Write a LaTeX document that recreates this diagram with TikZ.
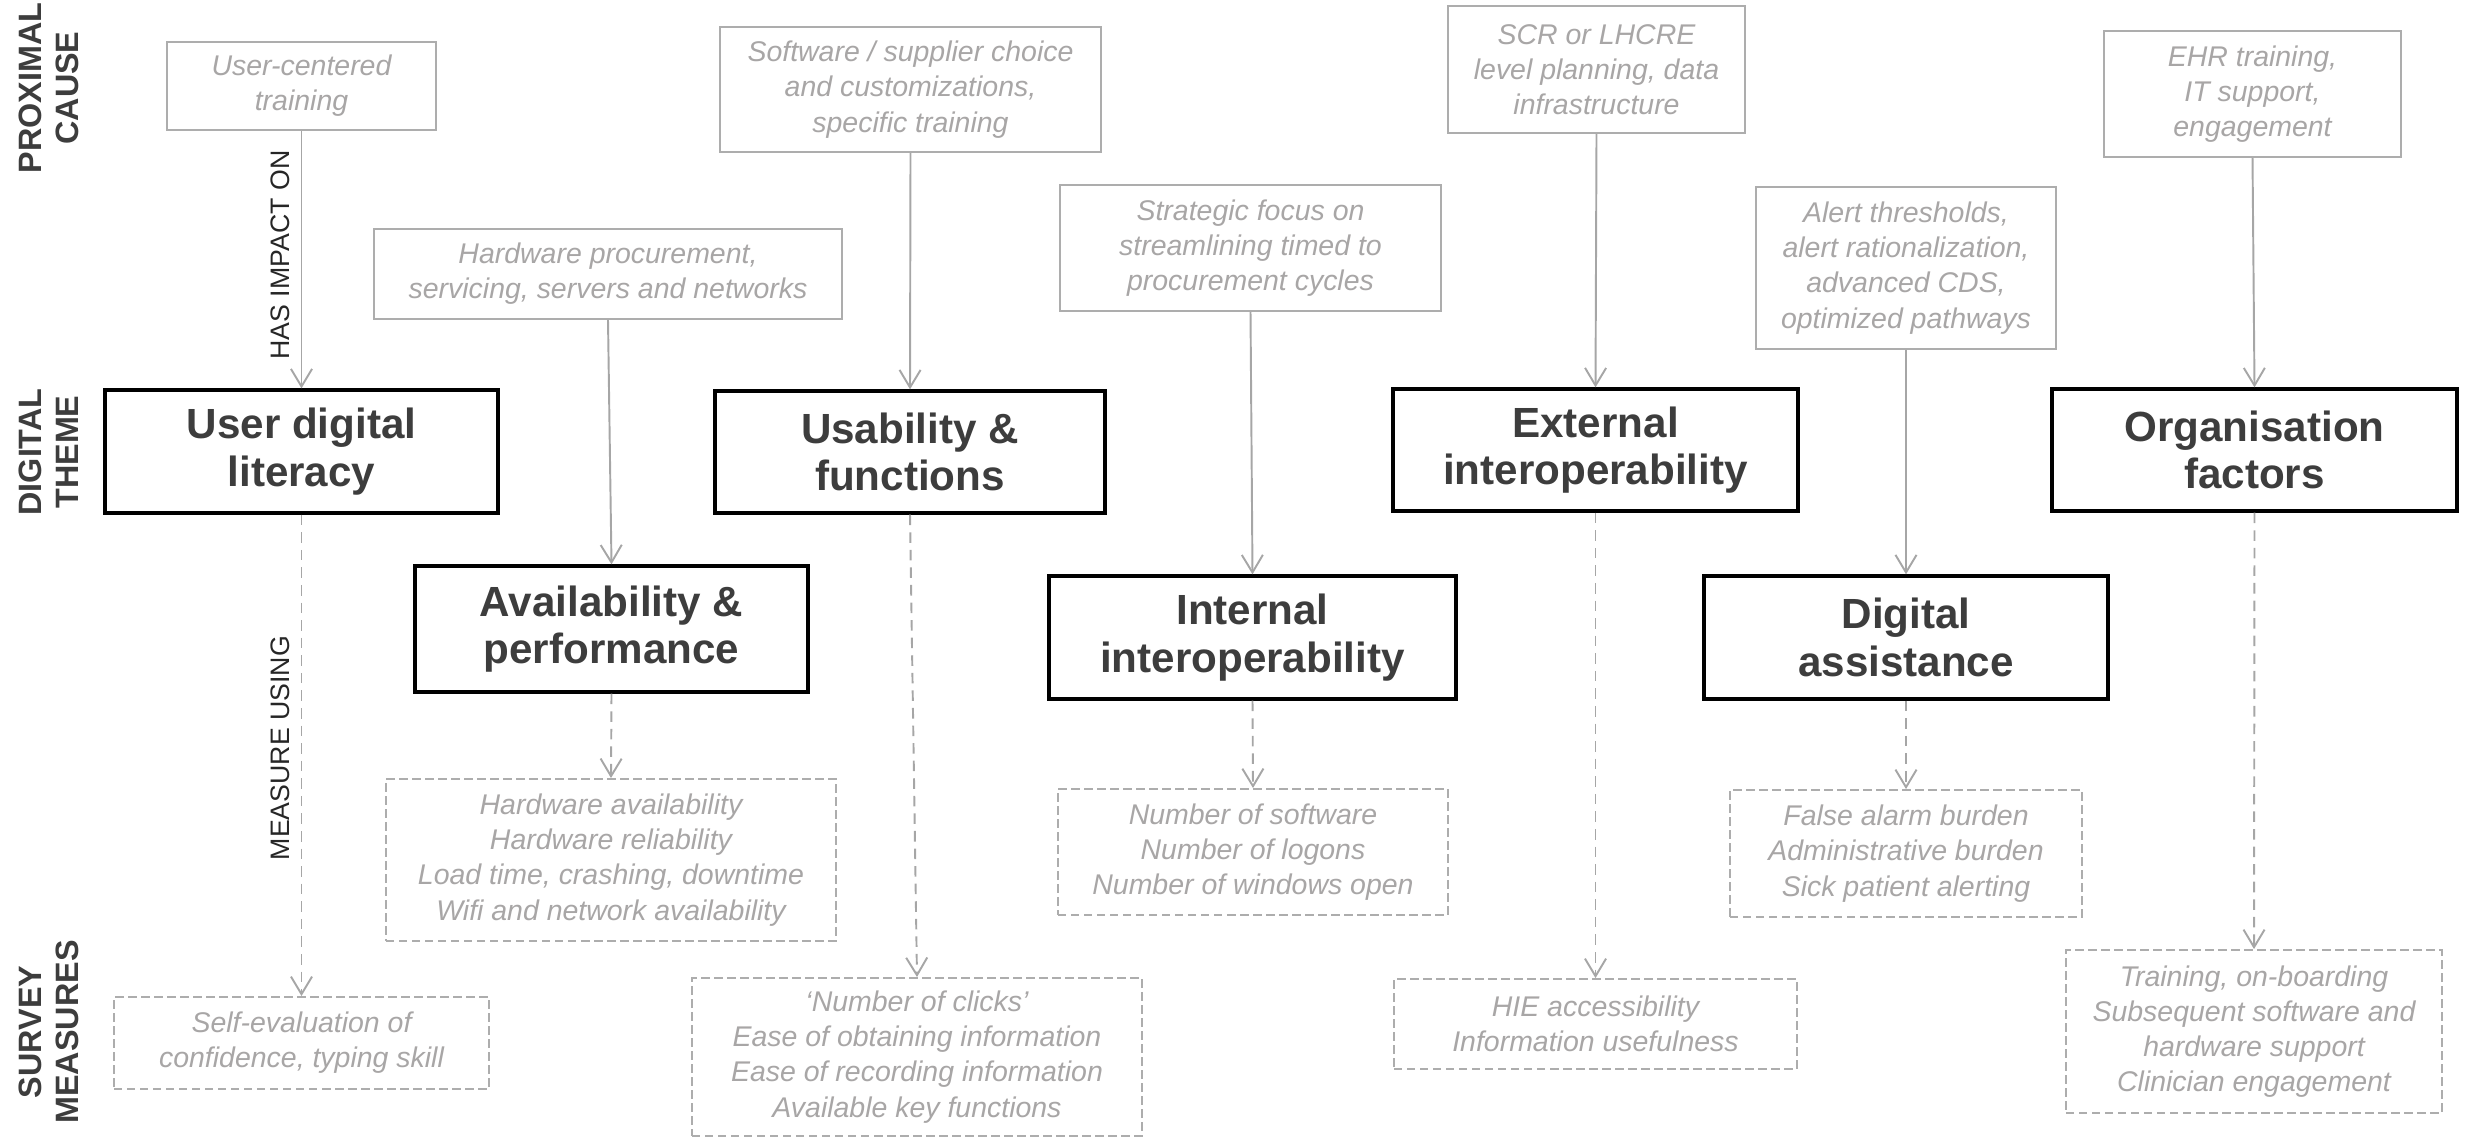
\documentclass[tikz,border=0pt]{standalone}
\usepackage{fontspec}
\setmainfont{Liberation Sans}
\usetikzlibrary{arrows.meta}
\definecolor{txtgray}{HTML}{A8A6A6}
\definecolor{boxgray}{HTML}{ADADAD}
\definecolor{linegray}{HTML}{A6A6A6}
\definecolor{dark}{HTML}{3D3D3D}
\tikzset{
  prox/.style={draw=boxgray, line width=0.55pt, fill=white, inner sep=0pt, align=center,
    text=txtgray, font=\fontsize{8.1}{10}\selectfont\itshape},
  theme/.style={draw=black, line width=0.95pt, fill=white, inner sep=0pt, align=center,
    text=dark, font=\fontsize{12}{13.6}\selectfont\bfseries},
  meas/.style={draw=boxgray, line width=0.55pt, dash pattern=on 2.4pt off 1.3pt, fill=white,
    inner sep=0pt, align=center, text=txtgray, font=\fontsize{8.1}{10}\selectfont\itshape},
  rowlab/.style={rotate=90, align=center, text=dark, font=\fontsize{9.2}{10.6}\selectfont\bfseries},
  conlab/.style={rotate=90, text=black!85, font=\fontsize{7.6}{9}\selectfont},
  impact/.style={draw=linegray, line width=0.55pt, -{Straight Barb[length=5pt,width=6pt]}},
  measure/.style={draw=linegray, line width=0.55pt, dash pattern=on 3pt off 2pt,
    -{Straight Barb[length=5pt,width=6pt]}},
}
\begin{document}
\begin{tikzpicture}
\useasboundingbox (0,0) rectangle (24.68,-11.39);

% row labels
\node[rowlab] (rl1) at (0.49,-0.88) {PROXIMAL\\CAUSE};
\node[rowlab] (rl2) at (0.49,-4.52) {DIGITAL\\THEME};
\node[rowlab] (rl3) at (0.49,-10.32) {SURVEY\\MEASURES};

% proximal causes
\node[prox, minimum width=2.69cm, minimum height=0.88cm] (p1) at (3.015,-0.86) {User-centered\\training};
\node[prox, minimum width=4.68cm, minimum height=0.90cm] (p2) at (6.08,-2.74) {Hardware procurement,\\servicing, servers and networks};
\node[prox, minimum width=3.81cm, minimum height=1.25cm] (p3) at (9.105,-0.895) {Software / supplier choice\\and customizations,\\specific training};
\node[prox, minimum width=3.81cm, minimum height=1.26cm] (p4) at (12.505,-2.48) {Strategic focus on\\streamlining timed to\\procurement cycles};
\node[prox, minimum width=2.97cm, minimum height=1.27cm] (p5) at (15.965,-0.695) {SCR or LHCRE\\level planning, data\\infrastructure};
\node[prox, minimum width=3.00cm, minimum height=1.62cm] (p6) at (19.06,-2.68) {Alert thresholds,\\alert rationalization,\\advanced CDS,\\optimized pathways};
\node[prox, minimum width=2.97cm, minimum height=1.26cm] (p7) at (22.525,-0.94) {EHR training,\\IT support,\\engagement};

% digital themes
\node[theme, minimum width=3.93cm, minimum height=1.23cm] (t1) at (3.015,-4.515) {User digital\\literacy};
\node[theme, minimum width=3.93cm, minimum height=1.26cm] (t2) at (6.115,-6.29) {Availability \&\\performance};
\node[theme, minimum width=3.90cm, minimum height=1.22cm] (t3) at (9.10,-4.52) {Usability \&\\functions};
\node[theme, minimum width=4.07cm, minimum height=1.23cm] (t4) at (12.525,-6.375) {Internal\\interoperability};
\node[theme, minimum width=4.05cm, minimum height=1.22cm] (t5) at (15.955,-4.50) {External\\interoperability};
\node[theme, minimum width=4.04cm, minimum height=1.23cm] (t6) at (19.06,-6.375) {Digital\\assistance};
\node[theme, minimum width=4.05cm, minimum height=1.22cm] (t7) at (22.545,-4.50) {Organisation\\factors};

% survey measures
\node[meas, minimum width=3.75cm, minimum height=0.92cm] (m1) at (3.015,-10.43) {Self-evaluation of\\confidence, typing skill};
\node[meas, minimum width=4.50cm, minimum height=1.62cm] (m2) at (6.11,-8.60) {Hardware availability\\Hardware reliability\\Load time, crashing, downtime\\Wifi and network availability};
\node[meas, minimum width=4.50cm, minimum height=1.58cm] (m3) at (9.17,-10.57) {‘Number of clicks’\\Ease of obtaining information\\Ease of recording information\\Available key functions};
\node[meas, minimum width=3.90cm, minimum height=1.26cm] (m4) at (12.53,-8.52) {Number of software\\Number of logons\\Number of windows open};
\node[meas, minimum width=4.03cm, minimum height=0.90cm] (m5) at (15.955,-10.24) {HIE accessibility\\Information usefulness};
\node[meas, minimum width=3.52cm, minimum height=1.27cm] (m6) at (19.06,-8.535) {False alarm burden\\Administrative burden\\Sick patient alerting};
\node[meas, minimum width=3.76cm, minimum height=1.63cm] (m7) at (22.54,-10.315) {Training, on-boarding\\Subsequent software and\\hardware support\\Clinician engagement};

% connectors: proximal cause -> digital theme
\draw[impact] (p1.south) -- (t1.north);
\draw[impact] (p2.south) -- (t2.north);
\draw[impact] (p3.south) -- (t3.north);
\draw[impact] (p4.south) -- (t4.north);
\draw[impact] (p5.south) -- (t5.north);
\draw[impact] (p6.south) -- (t6.north);
\draw[impact] (p7.south) -- (t7.north);

% connectors: digital theme -> survey measures
\draw[measure] (t1.south) -- (m1.north);
\draw[measure] (t2.south) -- (m2.north);
\draw[measure] (t3.south) -- (m3.north);
\draw[measure] (t4.south) -- (m4.north);
\draw[measure] (t5.south) -- (m5.north);
\draw[measure] (t6.south) -- (m6.north);
\draw[measure] (t7.south) -- (m7.north);

% connector labels
\node[conlab] (l1) at (2.80,-2.55) {HAS IMPACT ON};
\node[conlab] (l2) at (2.80,-7.48) {MEASURE USING};
\end{tikzpicture}
\end{document}
